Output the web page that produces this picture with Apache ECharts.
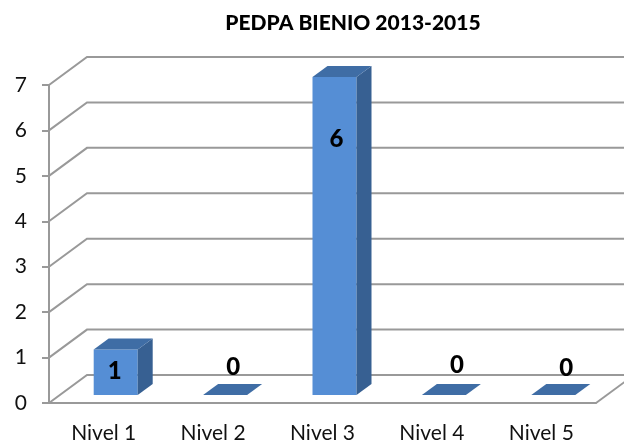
<!DOCTYPE html>
<html>
<head>
<meta charset="utf-8">
<title>PEDPA BIENIO 2013-2015</title>
<script src="https://cdn.jsdelivr.net/npm/echarts@6/dist/echarts.min.js"></script>
<style>
    html, body { margin: 0; padding: 0; background: #fff; }
    #chart { width: 624px; height: 444px; }
</style>
</head>
<body>
<div id="chart"></div>
<script>
var chartTitle = 'PEDPA BIENIO 2013-2015';
var categories = ['Nivel 1', 'Nivel 2', 'Nivel 3', 'Nivel 4', 'Nivel 5'];
// drawn height of the bars; the third one is labelled 6 in the original
var barValues = [1, 0, 7, 0, 0];
var barLabels = ['1', '0', '6', '0', '0'];
var yTicks = [0, 1, 2, 3, 4, 5, 6, 7];

// fake 3d depth, pixels
var wallDx = 38, wallDy = 28;
var barDx = 15, barDy = 11;
var barLift = 8, barShift = 12, barWidth = 44;
// hand placed labels: dx from bar centre, dy from top of the front face
var labelNudge = [[-1, 22], [8, -28], [2, 62], [13, -30], [13, -27]];

var lineColor = '#999999';

function renderWall(params, api) {
    var box = params.coordSys;
    var tick = api.value(1);
    var y = api.coord([0, tick])[1];
    var left = box.x, right = box.x + box.width;
    var points = [[left, y], [left + wallDx, y - wallDy], [right + wallDx, y - wallDy]];
    var children = [{
        type: 'polyline',
        shape: { points: points },
        style: { fill: null, stroke: lineColor, lineWidth: 2 }
    }];
    if (tick === 0) {
        children.push({
            type: 'line',
            shape: { x1: right, y1: y, x2: right + wallDx, y2: y - wallDy },
            style: { stroke: lineColor, lineWidth: 2 }
        });
    }
    return { type: 'group', children: children };
}

function renderBar(params, api) {
    var idx = api.value(0);
    var base = api.coord([idx, 0]);
    var top = api.coord([idx, api.value(1)]);
    var cx = base[0] + barShift;
    var x0 = cx - barWidth / 2, x1 = cx + barWidth / 2;
    var y0 = base[1] - barLift, y1 = top[1] - barLift;
    var children = [];

    if (y0 - y1 > 0) {
        children.push({
            type: 'rect',
            shape: { x: x0, y: y1, width: barWidth, height: y0 - y1 },
            style: { fill: '#558ed5' }
        });
        children.push({
            type: 'polygon',
            shape: { points: [[x1, y1], [x1 + barDx, y1 - barDy], [x1 + barDx, y0 - barDy], [x1, y0]] },
            style: { fill: '#376092' }
        });
    }
    children.push({
        type: 'polygon',
        shape: { points: [[x0, y1], [x1, y1], [x1 + barDx, y1 - barDy], [x0 + barDx, y1 - barDy]] },
        style: { fill: '#3f6da5' }
    });
    children.push({
        type: 'text',
        style: {
            x: cx + labelNudge[idx][0],
            y: y1 + labelNudge[idx][1],
            text: barLabels[idx],
            fill: '#000',
            font: '900 24px Lato',
            align: 'center',
            verticalAlign: 'middle'
        }
    });
    return { type: 'group', children: children };
}

var chart = echarts.init(document.getElementById('chart'), null, { renderer: 'canvas' });

chart.setOption({
    animation: false,
    backgroundColor: '#fff',
    title: {
        text: chartTitle,
        left: 348,
        top: 8,
        textAlign: 'center',
        textStyle: { fontFamily: 'Lato', fontSize: 21, fontWeight: 900, color: '#000' }
    },
    grid: { left: 49, right: 28, top: 85, bottom: 41, outerBoundsMode: 'none' },
    xAxis: {
        type: 'category',
        data: categories,
        axisLine: { lineStyle: { color: lineColor, width: 2 } },
        axisTick: { alignWithLabel: false, length: 6, lineStyle: { color: lineColor, width: 2 } },
        axisLabel: { fontFamily: 'Lato', fontSize: 21, color: '#111', margin: 20 }
    },
    yAxis: {
        type: 'value',
        min: 0,
        max: 7,
        interval: 1,
        splitLine: { show: false },
        axisLine: { show: true, lineStyle: { color: lineColor, width: 2 } },
        axisTick: { show: true, length: 7, lineStyle: { color: lineColor, width: 2 } },
        axisLabel: { fontFamily: 'Lato', fontSize: 21, color: '#111', margin: 22, padding: [4, 0, 0, 0] }
    },
    series: [
        {
            type: 'custom',
            name: 'wall',
            clip: false,
            silent: true,
            z: 1,
            renderItem: renderWall,
            data: yTicks.map(function (t) { return [0, t]; })
        },
        {
            type: 'custom',
            name: 'bars',
            clip: false,
            z: 3,
            renderItem: renderBar,
            data: barValues.map(function (v, i) { return [i, v]; })
        }
    ]
});
</script>
</body>
</html>
